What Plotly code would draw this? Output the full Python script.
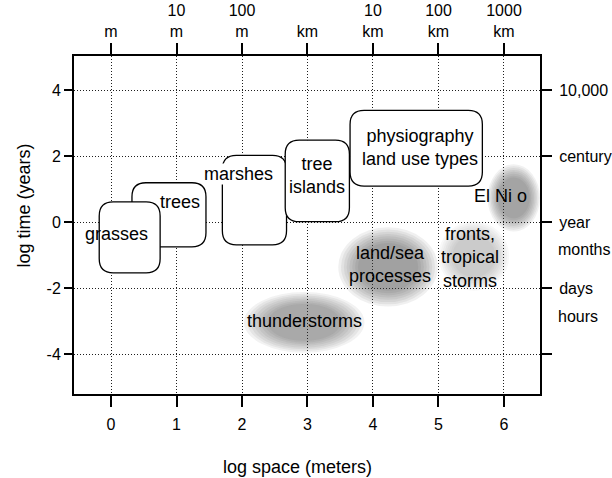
import plotly.graph_objects as go

# ---- axis data ----
x_ticks = [0, 1, 2, 3, 4, 5, 6]
x_tick_text = ["0", "1", "2", "3", "4", "5", "6"]
top_tick_text = ["m", "10<br>m", "100<br>m", "km", "10<br>km", "100<br>km", "1000<br>km"]
y_ticks = [-4, -2, 0, 2, 4]
y_tick_text = ["-4", "-2", "0", "2", "4"]
right_tick_vals = [4, 2, 0, -2, -4]
right_tick_text = ["10,000", "century", "year", "days", ""]
right_extra_labels = ["months", "hours"]
right_extra_y = [-0.84, -2.85]

# ---- rounded boxes (drawn in this order) ----
box_x0 = [0.32, -0.18, 1.70, 2.66, 3.65]
box_x1 = [1.45, 0.75, 2.68, 3.64, 5.67]
box_y0 = [-0.75, -1.54, -0.69, 0.01, 1.09]
box_y1 = [1.19, 0.61, 2.02, 2.48, 3.38]
box_labels = ["trees", "grasses", "marshes", "tree<br>islands", "physiography<br>land use types"]
box_label_x = [1.05, 0.09, 1.94, 3.15, 4.72]
box_label_y = [0.61, -0.36, 1.45, 1.40, 2.26]
box_label_bg = ["rgba(0,0,0,0)", "rgba(0,0,0,0)", "white", "rgba(0,0,0,0)", "rgba(0,0,0,0)"]

# ---- shaded blobs ----
blob_labels = ["El Ni o", "land/sea<br>processes", "fronts,<br>tropical<br>storms", "thunderstorms"]
blob_cx = [6.15, 4.23, 5.54, 2.95]
blob_cy = [0.73, -1.36, -1.03, -3.04]
blob_rx = [0.40, 0.76, 0.54, 0.92]
blob_ry = [1.02, 1.20, 1.05, 0.92]
blob_shade = [0.45, 0.48, 0.25, 0.42]
blob_label_x = [5.94, 4.26, 5.48, 2.96]
blob_label_y = [0.80, -1.28, -1.06, -3.00]

X_RANGE = [-0.565, 6.55]
Y_RANGE = [-5.21, 5.03]

FONT = "Liberation Sans, Arial, Helvetica, sans-serif"

fig = go.Figure()
# invisible traces so both axis pairs render
fig.add_trace(go.Scatter(x=[0], y=[0], mode="markers", marker=dict(opacity=0),
                         hoverinfo="skip", showlegend=False))
fig.add_trace(go.Scatter(x=[0], y=[0], mode="markers", marker=dict(opacity=0),
                         xaxis="x2", yaxis="y2", hoverinfo="skip", showlegend=False))

shapes = []
# blobs: concentric ellipses for a soft, fairly flat gradient
N = 8
for cx, cy, rx_, ry_, sh in zip(blob_cx, blob_cy, blob_rx, blob_ry, blob_shade):
    a = 1 - (1 - sh) ** (1.0 / N)
    for k in range(N):
        s = 1 - 0.45 * k / N
        shapes.append(dict(type="circle", xref="x", yref="y",
                           x0=cx - rx_ * s, x1=cx + rx_ * s, y0=cy - ry_ * s, y1=cy + ry_ * s,
                           fillcolor="rgb(60,60,60)", opacity=a, line=dict(width=0),
                           layer="above"))

# rounded boxes
RPX = 14
rx = RPX * (X_RANGE[1] - X_RANGE[0]) / 466.0
ry = RPX * (Y_RANGE[1] - Y_RANGE[0]) / 338.0
for x0, x1, y0, y1 in zip(box_x0, box_x1, box_y0, box_y1):
    p = (f"M {x0+rx},{y1} L {x1-rx},{y1} Q {x1},{y1} {x1},{y1-ry} "
         f"L {x1},{y0+ry} Q {x1},{y0} {x1-rx},{y0} "
         f"L {x0+rx},{y0} Q {x0},{y0} {x0},{y0+ry} "
         f"L {x0},{y1-ry} Q {x0},{y1} {x0+rx},{y1} Z")
    shapes.append(dict(type="path", path=p, xref="x", yref="y",
                       fillcolor="white", line=dict(color="black", width=1.3),
                       layer="above"))

annotations = []
for t, x, y, bg in zip(box_labels, box_label_x, box_label_y, box_label_bg):
    annotations.append(dict(text=t, x=x, y=y, xref="x", yref="y", showarrow=False,
                            bgcolor=bg, borderpad=0,
                            font=dict(size=18, color="black", family=FONT)))
for t, x, y in zip(blob_labels, blob_label_x, blob_label_y):
    annotations.append(dict(text=t, x=x, y=y, xref="x", yref="y", showarrow=False,
                            font=dict(size=18, color="black", family=FONT)))
for t, y in zip(right_extra_labels, right_extra_y):
    annotations.append(dict(text=t, x=1, y=y, xref="paper", yref="y", xanchor="left",
                            xshift=16, showarrow=False,
                            font=dict(size=16, color="black", family=FONT)))
# axis titles
annotations.append(dict(text="log space (meters)", x=2.85, y=0, xref="x", yref="paper",
                        xanchor="center", yshift=-73, yanchor="middle", showarrow=False,
                        font=dict(size=18, color="black", family=FONT)))
annotations.append(dict(text="log time (years)", x=0, y=0.5, xref="paper", yref="y",
                        xanchor="center", yanchor="middle",
                        xshift=-50, textangle=-90, showarrow=False,
                        font=dict(size=18, color="black", family=FONT)))

axis_common = dict(showline=True, linecolor="black", linewidth=2, ticks="outside",
                   tickcolor="black", tickwidth=1.5, zeroline=False, automargin=False,
                   tickfont=dict(size=16, color="black", family=FONT))
GRID = dict(showgrid=True, gridcolor="rgb(30,30,30)", gridwidth=1, griddash="1px,2px")

fig.update_layout(
    width=612, height=478,
    margin=dict(l=74, r=72, t=56, b=84),
    paper_bgcolor="white", plot_bgcolor="white",
    showlegend=False,
    shapes=shapes, annotations=annotations,
    xaxis=dict(range=X_RANGE, tickvals=x_ticks, ticktext=x_tick_text, ticklen=11,
               ticklabelstandoff=4, **GRID, **axis_common),
    yaxis=dict(range=Y_RANGE, tickvals=y_ticks, ticktext=y_tick_text, ticklen=8,
               **GRID, **axis_common),
    xaxis2=dict(range=X_RANGE, tickvals=x_ticks, ticktext=top_tick_text, ticklen=11,
                overlaying="x", side="top", anchor="y2", showgrid=False, **axis_common),
    yaxis2=dict(range=Y_RANGE, tickvals=right_tick_vals, ticktext=right_tick_text, ticklen=10,
                overlaying="y", side="right", anchor="x2", showgrid=False,
                ticklabelstandoff=4, **axis_common),
)

fig.write_html("out.html", config={"displayModeBar": False},
               post_script="document.body.style.margin='0';document.body.style.overflow='hidden';")
